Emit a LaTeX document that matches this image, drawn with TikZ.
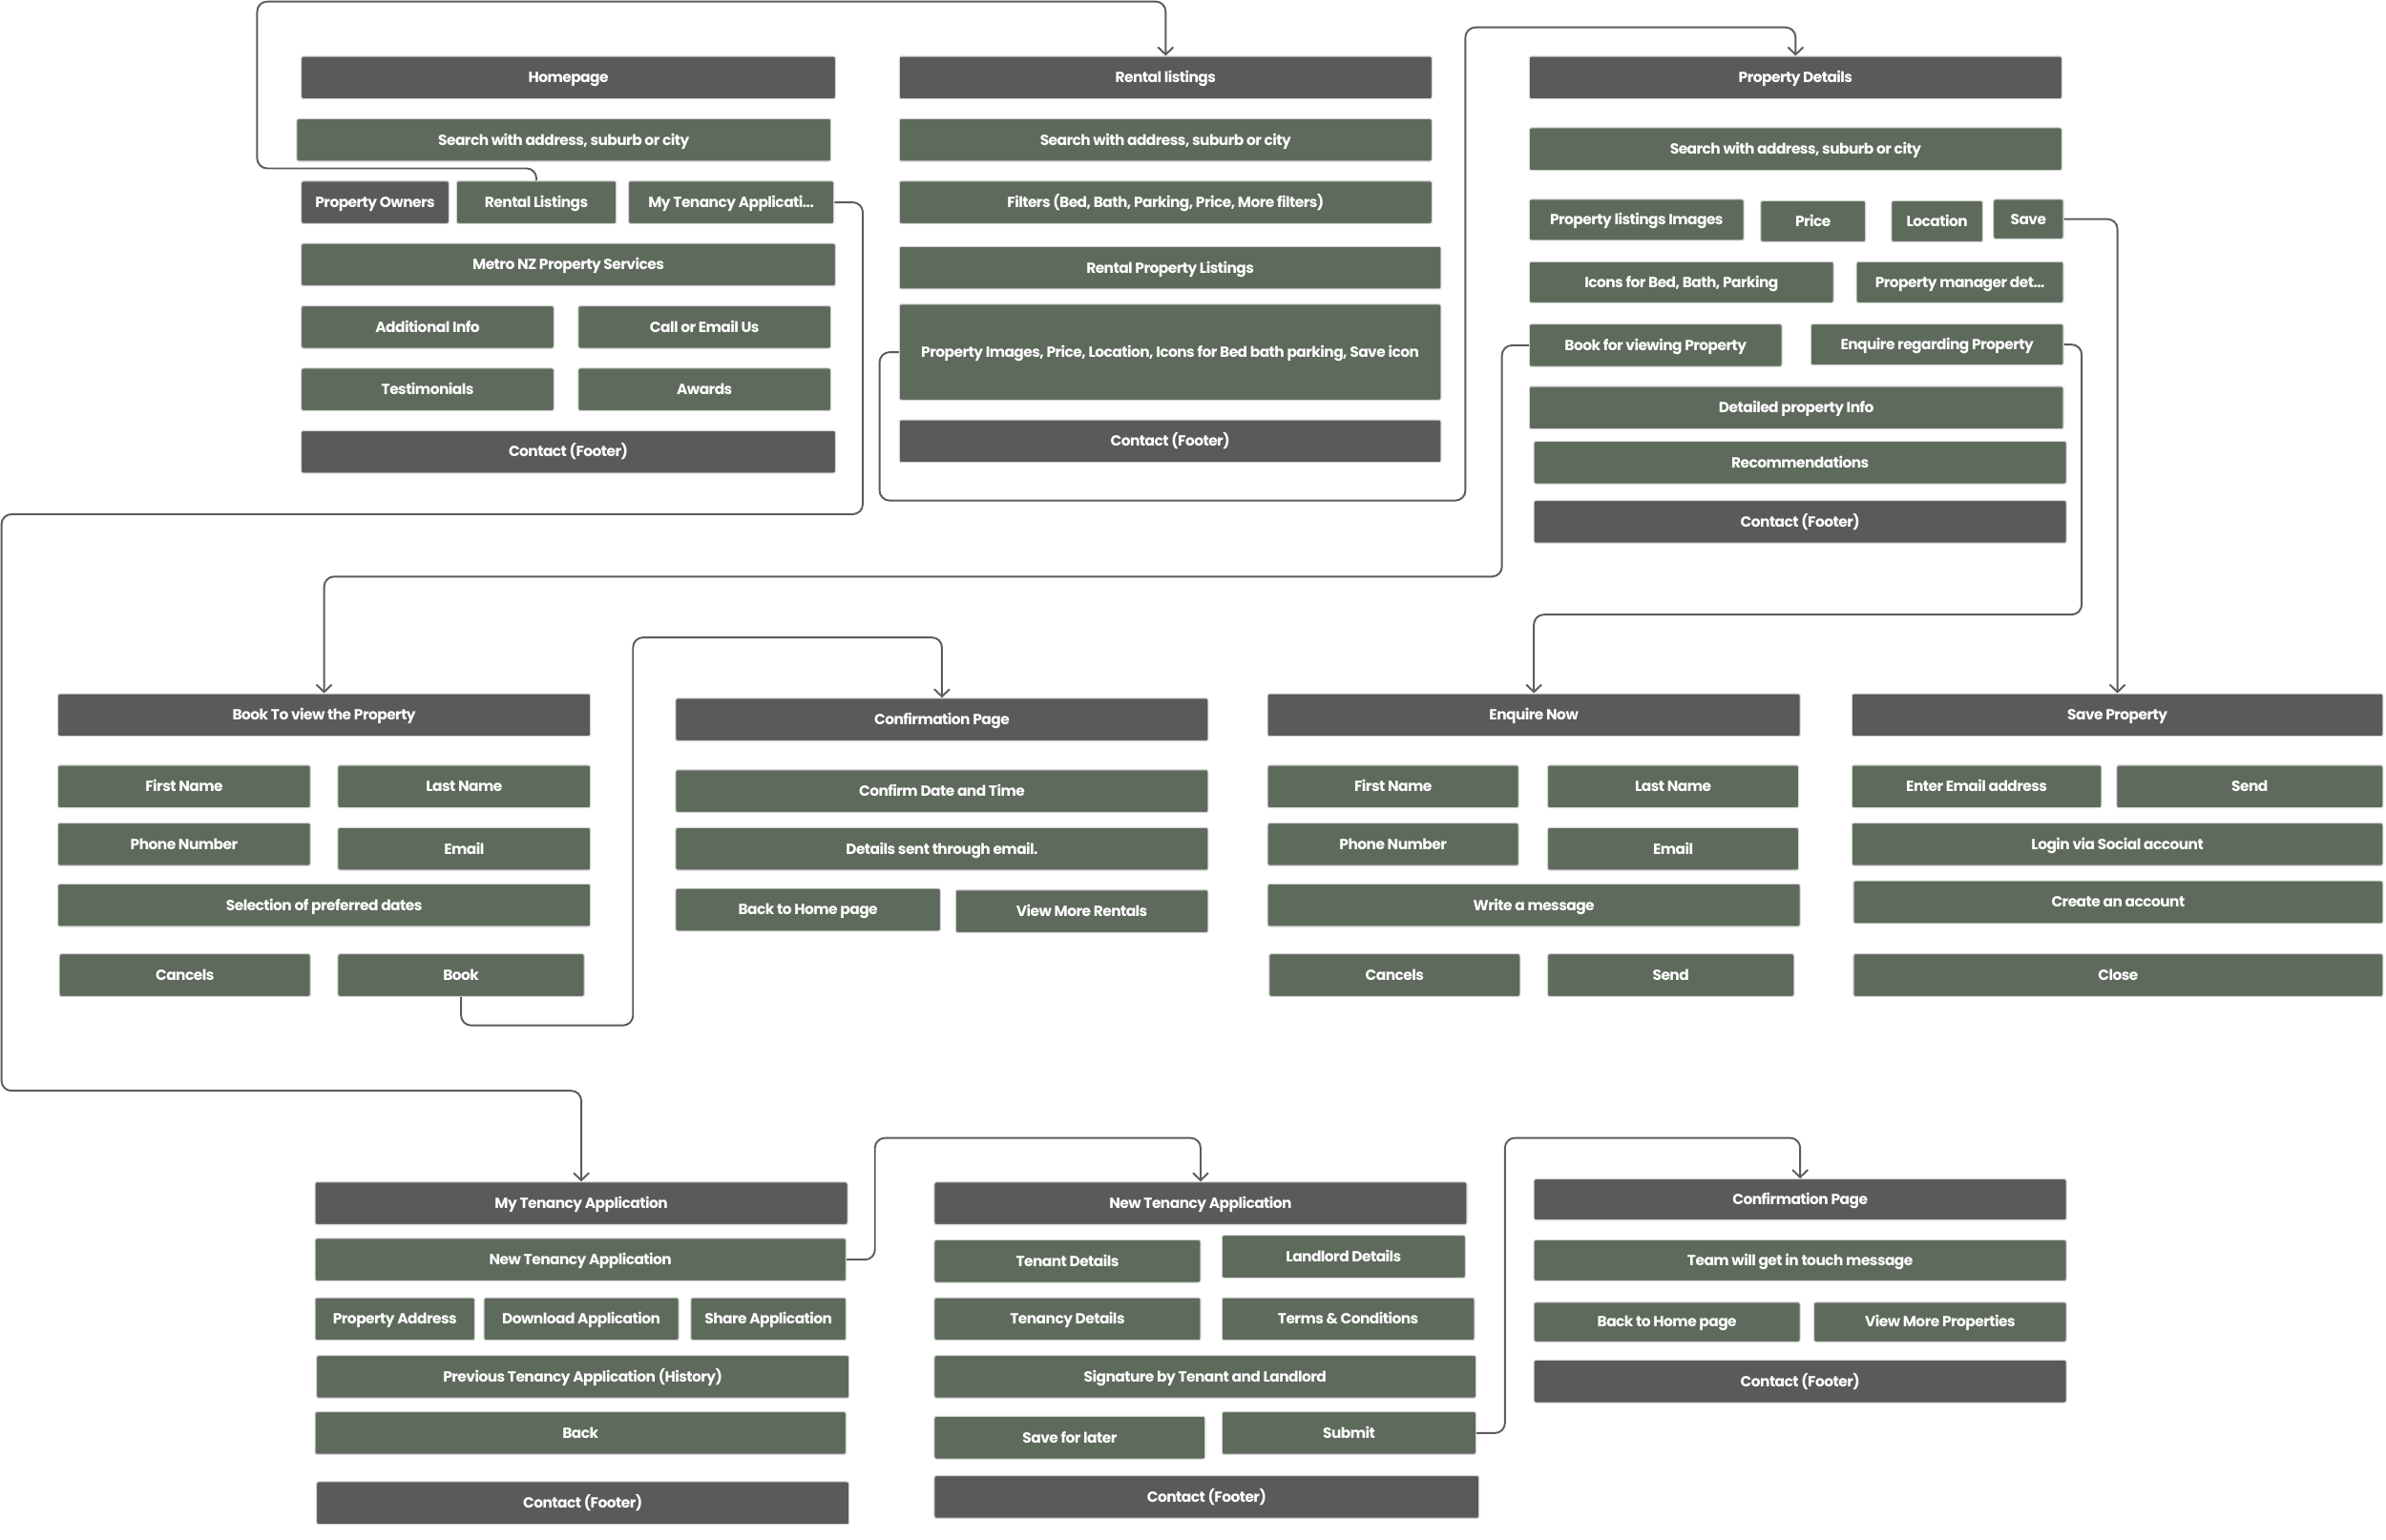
\documentclass[tikz,border=0pt]{standalone}
\usepackage{fontspec}
\setmainfont{Poppins}[LetterSpace=-3.5]
\usetikzlibrary{arrows.meta}
\definecolor{xam}{HTML}{5A5A5A}
\definecolor{xanh}{HTML}{5E6B5C}
\definecolor{vien}{HTML}{D4D4D4}
\definecolor{day}{HTML}{5C5C5C}
\tikzset{
  o/.style={rectangle, rounded corners=0.6pt, draw=vien, line width=0.3pt, inner sep=0pt,
    text height=3.1pt, text depth=0pt,
    text=white, font=\fontsize{4.4}{5}\selectfont\bfseries},
  oxam/.style={o, fill=xam},
  oxanh/.style={o, fill=xanh},
  noi/.style={->, >={Straight Barb[length=2.2pt,width=4.6pt]}, draw=day, line width=0.55pt, rounded corners=3pt}
}
% o: kieu, ten, x1, y1, x2, y2, chu
\newcommand{\hop}[7]{\node[#1, minimum width={(#5-#3)*0.016cm}, minimum height={(#6-#4)*0.016cm}] (#2) at ({(#3+#5)/2},{(#4+#6)/2}) {#7};}
\begin{document}
\begin{tikzpicture}[x=0.016cm, y=-0.016cm]
    \useasboundingbox (0,0) rectangle (1568,1012);
    % Trang chu
    \hop{oxam}{hp}{198}{37}{549}{65}{Homepage}
    \hop{oxanh}{hpsearch}{195}{78}{546}{106}{Search with address, suburb or city}
    \hop{oxam}{owners}{198}{119}{295}{147}{Property Owners}
    \hop{oxanh}{rentbtn}{300}{119}{405}{147}{Rental Listings}
    \hop{oxanh}{mytenbtn}{413}{119}{548}{147}{My Tenancy Applicati...}
    \hop{oxanh}{metro}{198}{160}{549}{188}{Metro NZ Property Services}
    \hop{oxanh}{addinfo}{198}{201}{364}{229}{Additional Info}
    \hop{oxanh}{call}{380}{201}{546}{229}{Call or Email Us}
    \hop{oxanh}{testi}{198}{242}{364}{270}{Testimonials}
    \hop{oxanh}{awards}{380}{242}{546}{270}{Awards}
    \hop{oxam}{hpfoot}{198}{283}{549}{311}{Contact (Footer)}

    % Danh sach cho thue
    \hop{oxam}{rl}{591}{37}{941}{65}{Rental listings}
    \hop{oxanh}{rlsearch}{591}{78}{941}{106}{Search with address, suburb or city}
    \hop{oxanh}{filters}{591}{119}{941}{147}{Filters (Bed, Bath, Parking, Price, More filters)}
    \hop{oxanh}{rpl}{591}{162}{947}{190}{Rental Property Listings}
    \hop{oxanh}{pimg}{591}{200}{947}{263}{Property Images, Price, Location, Icons for Bed bath parking, Save icon}
    \hop{oxam}{rlfoot}{591}{276}{947}{304}{Contact (Footer)}

    % Chi tiet nha
    \hop{oxam}{pd}{1005}{37}{1355}{65}{Property Details}
    \hop{oxanh}{pdsearch}{1005}{84}{1355}{112}{Search with address, suburb or city}
    \hop{oxanh}{pli}{1005}{131}{1146}{158}{Property listings Images}
    \hop{oxanh}{price}{1157}{132}{1226}{159}{Price}
    \hop{oxanh}{loc}{1243}{132}{1303}{159}{Location}
    \hop{oxanh}{save}{1310}{131}{1356}{157}{Save}
    \hop{oxanh}{icons}{1005}{172}{1205}{199}{Icons for Bed, Bath, Parking}
    \hop{oxanh}{pm}{1220}{172}{1356}{199}{Property manager det...}
    \hop{oxanh}{bookv}{1005}{213}{1171}{241}{Book for viewing Property}
    \hop{oxanh}{enq}{1190}{213}{1356}{240}{Enquire regarding Property}
    \hop{oxanh}{dpi}{1005}{254}{1356}{282}{Detailed property Info}
    \hop{oxanh}{reco}{1008}{290}{1358}{318}{Recommendations}
    \hop{oxam}{pdfoot}{1008}{329}{1358}{357}{Contact (Footer)}

    % Dat lich xem nha
    \hop{oxam}{bk}{38}{456}{388}{484}{Book To view the Property}
    \hop{oxanh}{bkfirst}{38}{503}{204}{531}{First Name}
    \hop{oxanh}{bklast}{222}{503}{388}{531}{Last Name}
    \hop{oxanh}{bkphone}{38}{541}{204}{569}{Phone Number}
    \hop{oxanh}{bkemail}{222}{544}{388}{572}{Email}
    \hop{oxanh}{bkdates}{38}{581}{388}{609}{Selection of preferred dates}
    \hop{oxanh}{bkcancel}{39}{627}{204}{655}{Cancels}
    \hop{oxanh}{bkbook}{222}{627}{384}{655}{Book}

    % Xac nhan
    \hop{oxam}{cf}{444}{459}{794}{487}{Confirmation Page}
    \hop{oxanh}{cfdate}{444}{506}{794}{534}{Confirm Date and Time}
    \hop{oxanh}{cfemail}{444}{544}{794}{572}{Details sent through email.}
    \hop{oxanh}{cfhome}{444}{584}{618}{612}{Back to Home page}
    \hop{oxanh}{cfmore}{628}{585}{794}{613}{View More Rentals}

    % Hoi thong tin
    \hop{oxam}{en}{833}{456}{1183}{484}{Enquire Now}
    \hop{oxanh}{enfirst}{833}{503}{998}{531}{First Name}
    \hop{oxanh}{enlast}{1017}{503}{1182}{531}{Last Name}
    \hop{oxanh}{enphone}{833}{541}{998}{569}{Phone Number}
    \hop{oxanh}{enemail}{1017}{544}{1182}{572}{Email}
    \hop{oxanh}{enmsg}{833}{581}{1183}{609}{Write a message}
    \hop{oxanh}{encancel}{834}{627}{999}{655}{Cancels}
    \hop{oxanh}{ensend}{1017}{627}{1179}{655}{Send}

    % Luu nha
    \hop{oxam}{sv}{1217}{456}{1566}{484}{Save Property}
    \hop{oxanh}{svemail}{1217}{503}{1381}{531}{Enter Email address}
    \hop{oxanh}{svsend}{1391}{503}{1566}{531}{Send}
    \hop{oxanh}{svlogin}{1217}{541}{1566}{569}{Login via Social account}
    \hop{oxanh}{svcreate}{1218}{579}{1566}{607}{Create an account}
    \hop{oxanh}{svclose}{1218}{627}{1566}{655}{Close}

    % Don thue nha cua toi
    \hop{oxam}{mt}{207}{777}{557}{805}{My Tenancy Application}
    \hop{oxanh}{mtnew}{207}{814}{556}{842}{New Tenancy Application}
    \hop{oxanh}{mtaddr}{207}{853}{312}{881}{Property Address}
    \hop{oxanh}{mtdown}{318}{853}{446}{881}{Download Application}
    \hop{oxanh}{mtshare}{454}{853}{556}{881}{Share Application}
    \hop{oxanh}{mtprev}{208}{891}{558}{919}{Previous Tenancy Application (History)}
    \hop{oxanh}{mtback}{207}{928}{556}{956}{Back}
    \hop{oxam}{mtfoot}{208}{974}{558}{1002}{Contact (Footer)}

    % Don thue moi
    \hop{oxam}{nt}{614}{777}{964}{805}{New Tenancy Application}
    \hop{oxanh}{nttenant}{614}{815}{789}{843}{Tenant Details}
    \hop{oxanh}{ntland}{803}{812}{963}{840}{Landlord Details}
    \hop{oxanh}{ntten}{614}{853}{789}{881}{Tenancy Details}
    \hop{oxanh}{ntterms}{803}{853}{969}{881}{Terms \& Conditions}
    \hop{oxanh}{ntsign}{614}{891}{970}{919}{Signature by Tenant and Landlord}
    \hop{oxanh}{ntsave}{614}{931}{792}{959}{Save for later}
    \hop{oxanh}{ntsubmit}{803}{928}{970}{956}{Submit}
    \hop{oxam}{ntfoot}{614}{970}{972}{998}{Contact (Footer)}

    % Xac nhan 2
    \hop{oxam}{cfb}{1008}{775}{1358}{802}{Confirmation Page}
    \hop{oxanh}{cfbteam}{1008}{815}{1358}{842}{Team will get in touch message}
    \hop{oxanh}{cfbhome}{1008}{856}{1183}{882}{Back to Home page}
    \hop{oxanh}{cfbmore}{1192}{856}{1358}{882}{View More Properties}
    \hop{oxam}{cfbfoot}{1008}{894}{1358}{922}{Contact (Footer)}

    % Cac duong noi
    \draw[noi] (rentbtn.north) -- ++(0,-8) -| (169,1) -| (rl.north);
    \draw[noi] (mytenbtn.east) -| (567,338) -| (1,717) -| (mt.north);
    \draw[noi] (pimg.west) -| (578,329) -| (963,18) -| (pd.north);
    \draw[noi] (bookv.west) -| (987,379) -| (bk.north);
    \draw[noi] (enq.east) -| (1368,404) -| (en.north);
    \draw[noi] (save.east) -| (sv.north);
    \draw[noi] (bkbook.south) |- (416,674) -- (416,419) -| (cf.north);
    \draw[noi] (mtnew.east) -| (575,748) -| (nt.north);
    \draw[noi] (ntsubmit.east) -| (989,748) -| (cfb.north);
\end{tikzpicture}
\end{document}
